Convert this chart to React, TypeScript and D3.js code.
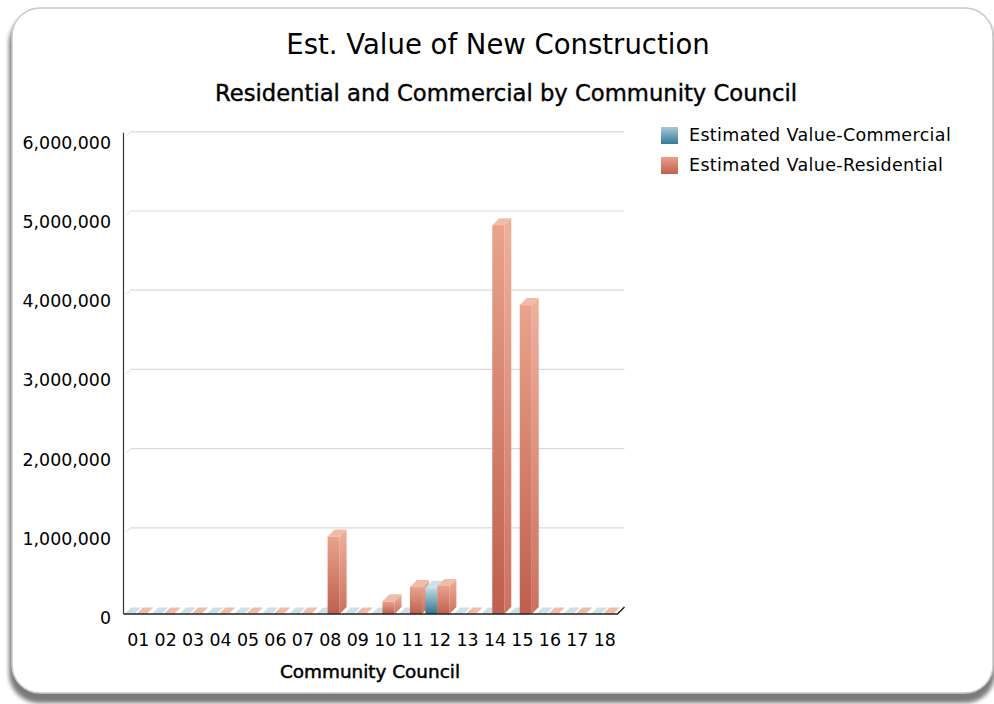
import * as d3 from "d3";

const categories = ["01", "02", "03", "04", "05", "06", "07", "08", "09", "10", "11", "12", "13", "14", "15", "16", "17", "18"];
const commercial = [0, 0, 0, 0, 0, 0, 0, 0, 0, 0, 0, 330000, 0, 0, 0, 0, 0, 0];
const residential = [0, 0, 0, 0, 0, 0, 0, 980000, 0, 160000, 340000, 355000, 0, 4910000, 3900000, 0, 0, 0];
const yTicks = [0, 1000000, 2000000, 3000000, 4000000, 5000000, 6000000];
const seriesNames = ["Estimated Value-Commercial", "Estimated Value-Residential"];

const FONT = "'DejaVu Sans', sans-serif";
const DX = 7;
const DY = 7;
const BAR_W = 12;

const x = d3.scaleBand<string>().domain(categories).range([123.5, 617.5]);
const y = d3.scaleLinear().domain([0, 6000000]).range([614, 138.8]);
const fmt = d3.format(",");

type Bar = { key: string; x: number; v: number; series: number };

const bars: Bar[] = [];
categories.forEach((c, i) => {
  const x0 = x(c)!;
  bars.push({ key: c + "c", x: x0, v: commercial[i], series: 0 });
  bars.push({ key: c + "r", x: x0 + BAR_W, v: residential[i], series: 1 });
});

const fills = [
  { front: "url(#blueFront)", top: "#cde0e5", side: "url(#blueSide)" },
  { front: "url(#redFront)", top: "#efbca9", side: "url(#redSide)" },
];

function Bar3D({ b }: { b: Bar }) {
  const base = y(0);
  const yt = y(b.v);
  const f = fills[b.series];
  const topPts = [
    [b.x, yt],
    [b.x + BAR_W, yt],
    [b.x + BAR_W + DX, yt - DY],
    [b.x + DX, yt - DY],
  ];
  if (b.v === 0) {
    return <polygon points={topPts.map((p) => p.join(",")).join(" ")} fill={f.top} stroke="#fff" strokeWidth={1.2} />;
  }
  const sidePts = [
    [b.x + BAR_W, yt],
    [b.x + BAR_W + DX, yt - DY],
    [b.x + BAR_W + DX, base - DY],
    [b.x + BAR_W, base],
  ];
  return (
    <g>
      <polygon points={sidePts.map((p) => p.join(",")).join(" ")} fill={f.side} />
      <rect x={b.x} y={yt} width={BAR_W} height={base - yt} fill={f.front} />
      <polygon points={topPts.map((p) => p.join(",")).join(" ")} fill={f.top} />
    </g>
  );
}

export default function App() {
  const [x0, x1] = x.range();
  const base = y(0);
  return (
    <svg width={994} height={704} style={{ position: "absolute", left: 0, top: 0 }}>
      <defs>
        <linearGradient id="blueFront" x1="0" y1="0" x2="0" y2="1">
          <stop offset="0" stopColor="#c3dce2" />
          <stop offset="1" stopColor="#2c7493" />
        </linearGradient>
        <linearGradient id="blueSide" x1="0" y1="0" x2="0" y2="1">
          <stop offset="0" stopColor="#b4d0d8" />
          <stop offset="1" stopColor="#3f7f99" />
        </linearGradient>
        <linearGradient id="redFront" x1="0" y1="0" x2="0" y2="1">
          <stop offset="0" stopColor="#e9a38d" />
          <stop offset="1" stopColor="#bf5f4d" />
        </linearGradient>
        <linearGradient id="redSide" x1="0" y1="0" x2="0" y2="1">
          <stop offset="0" stopColor="#efb09c" />
          <stop offset="1" stopColor="#cd715f" />
        </linearGradient>
        <linearGradient id="legBlue" x1="0" y1="0" x2="0" y2="1">
          <stop offset="0" stopColor="#a6cad5" />
          <stop offset="1" stopColor="#347a96" />
        </linearGradient>
        <linearGradient id="legRed" x1="0" y1="0" x2="0" y2="1">
          <stop offset="0" stopColor="#ea9f88" />
          <stop offset="1" stopColor="#c0604f" />
        </linearGradient>
        <filter id="shadow" x="-5%" y="-5%" width="110%" height="110%">
          <feGaussianBlur stdDeviation="2" />
        </filter>
      </defs>

      {/* frame */}
      <rect x={9} y={13} width={986} height={690} rx={30} fill="#7a7a7a" filter="url(#shadow)" />
      <rect x={12} y={8} width={981} height={685} rx={28} fill="#fff" stroke="#c9c9c9" strokeWidth={1.5} />

      {/* titles */}
      <text x={498} y={54} textAnchor="middle" fontFamily={FONT} fontSize={27.5} fill="#000">
        Est. Value of New Construction
      </text>
      <text x={506} y={101} textAnchor="middle" fontFamily={FONT} fontSize={22.7} fill="#000" stroke="#000" strokeWidth={0.4}>
        Residential and Commercial by Community Council
      </text>

      {/* gridlines on back wall */}
      {yTicks.map((t) => (
        <g key={t}>
          {t > 0 && <line x1={x0 + DX} x2={x1 + DX} y1={y(t) - DY} y2={y(t) - DY} stroke="#d9d9d9" strokeWidth={1.2} />}
          {t > 0 && <line x1={x0 + 3} x2={x0 + DX} y1={y(t) - 3} y2={y(t) - DY} stroke="#d9d9d9" strokeWidth={1} />}
          <text x={111} y={y(t) + 5} textAnchor="end" dominantBaseline="middle" fontFamily={FONT} fontSize={17.4} fill="#000">
            {fmt(t)}
          </text>
        </g>
      ))}

      {/* bars */}
      {bars.map((b) => (
        <Bar3D key={b.key} b={b} />
      ))}

      {/* axes */}
      <line x1={x0} x2={x0} y1={y(6000000) - 6} y2={base} stroke="#333" strokeWidth={1.2} />
      <polyline points={`${x0},${base} ${x1},${base} ${x1 + DX},${base - DY}`} fill="none" stroke="#222" strokeWidth={1.5} />

      {categories.map((c) => (
        <text key={c} x={x(c)! + x.bandwidth() / 2 + 1} y={641} textAnchor="middle" dominantBaseline="middle" fontFamily={FONT} fontSize={17.4} fill="#000">
          {c}
        </text>
      ))}
      <text x={370} y={678} textAnchor="middle" fontFamily={FONT} fontSize={18.4} fill="#000" stroke="#000" strokeWidth={0.5}>
        Community Council
      </text>

      {/* legend */}
      {seriesNames.map((s, i) => (
        <g key={s} transform={`translate(661, ${127 + i * 30})`}>
          <rect width={17} height={17} fill={i === 0 ? "url(#legBlue)" : "url(#legRed)"} />
          <text x={28} y={9} dominantBaseline="middle" fontFamily={FONT} fontSize={17.5} letterSpacing={0.35} fill="#000">
            {s}
          </text>
        </g>
      ))}
    </svg>
  );
}
